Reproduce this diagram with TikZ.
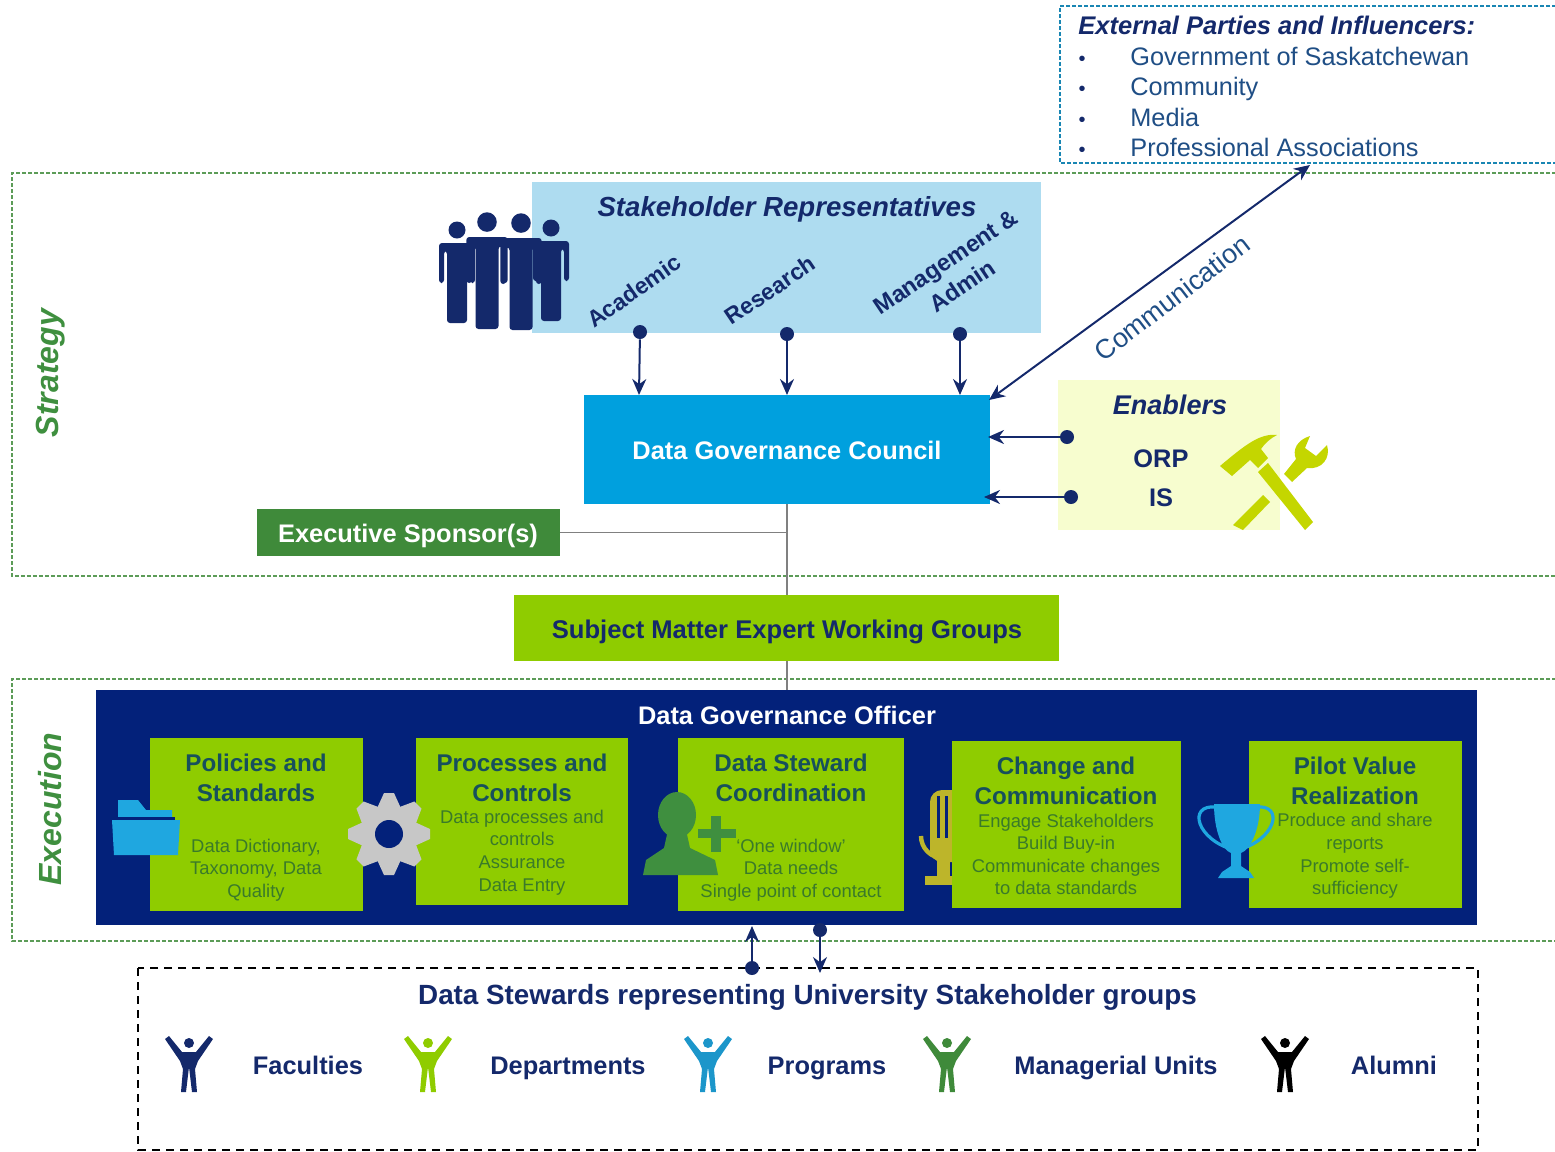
\documentclass[tikz,border=0pt]{standalone}
\usepackage{fontspec}
\setmainfont{Liberation Sans}
\usetikzlibrary{arrows.meta}
\definecolor{navy}{HTML}{14296B}
\definecolor{band}{HTML}{03217A}
\definecolor{lime}{HTML}{8FCC00}
\definecolor{sky}{HTML}{AEDCF0}
\definecolor{cblue}{HTML}{00A0DE}
\definecolor{pale}{HTML}{F7FDCF}
\definecolor{egreen}{HTML}{3F8A3A}
\definecolor{tooly}{HTML}{C4D600}
\definecolor{micy}{HTML}{BDB52A}
\definecolor{tblue}{HTML}{1FA7E0}
\definecolor{ttl}{HTML}{17505C}
\definecolor{sub}{HTML}{3A7A2A}
\definecolor{grn}{HTML}{3F8F3F}
\definecolor{extc}{HTML}{1F4E85}
\tikzset{
  sz/.style 2 args={minimum width=#1*0.5pt,minimum height=#2*0.5pt,inner sep=0pt,outer sep=0pt,anchor=north west},
  bx/.style={draw=none,fill=#1},
  oneline/.style={text height=9pt,text depth=0pt},
  ttlfont/.style={font=\fontsize{12.1}{15}\selectfont\bfseries,align=center,text=ttl,inner sep=0pt},
  subfont/.style={font=\fontsize{9.2}{11.3}\selectfont,align=center,text=sub,inner sep=0pt},
  headfont/.style={font=\fontsize{12.7}{15}\selectfont\bfseries,text=navy,inner sep=0pt},
  whitefont/.style={font=\fontsize{12.7}{15}\selectfont\bfseries,text=white,inner sep=0pt},
  zone/.style={draw=egreen!85,dashed,dash pattern=on 2pt off 1pt,line width=0.6pt},
  link/.style={draw=navy,line width=1pt,-{Stealth[length=8pt,width=7pt]}},
  glink/.style={draw=black!50,line width=0.6pt},
  dotn/.style={circle,fill=navy,inner sep=0pt,minimum size=7pt},
  standing/.pic={
    \fill[pic actions] (0,-13) circle (8.5);
    \fill[pic actions,rounded corners=1.5pt] (-18,0) -- (18,0) -- (18,40) -- (13,40) -- (13,8) -- (10,8) -- (10,80) -- (-10,80) -- (-10,8) -- (-13,8) -- (-13,40) -- (-18,40) -- cycle;
  },
  cheer/.pic={
    \fill[pic actions] (0,-21) circle (5);
    \fill[pic actions] (-24,-25) -- (-20,-28) -- (-7,-12) -- (7,-12) -- (20,-28) -- (24,-25) -- (9,-3) -- (6,5) -- (8,28) -- (3,28) -- (0,3) -- (-3,28) -- (-8,28) -- (-6,5) -- (-9,-3) -- cycle;
  }
}
\begin{document}
\begin{tikzpicture}[x=0.5pt,y=-0.5pt]
\useasboundingbox (0,0) rectangle (1555,1152);
\begin{scope}
\clip (0,0) rectangle (1555,1152);
% zones
\draw[zone] (1556,173) -- (12,173) -- (12,576) -- (1556,576);
\draw[zone] (1556,679) -- (12,679) -- (12,941) -- (1556,941);
\draw[draw=tblue!80!black,dashed,dash pattern=on 2pt off 1pt,line width=0.6pt] (1556,6) -- (1060,6) -- (1060,163) -- (1556,163);
\draw[black,dashed,dash pattern=on 4pt off 3pt,line width=0.7pt] (138,968) rectangle (1478,1150);

% boxes
\node[sz={509}{151},bx=sky] (sr) at (532,182) {};
\node[sz={406}{109},bx=cblue] (council) at (584,395) {};
\node[sz={222}{150},bx=pale] (enablers) at (1058,380) {};
\node[sz={303}{47},bx=egreen] (exec) at (257,509) {};
\node[sz={1381}{235},bx=band] (officer) at (96,690) {};

% grey connectors
\coordinate (junc) at (council.south |- exec.east);
\draw[glink] (council.south) -- (council.south |- officer.north);
\draw[glink] (exec.east) -- (junc);
\node[sz={545}{66},bx=lime] (sme) at (514,595) {};

% mic (behind box 4)
\fill[micy,rounded corners=6pt] (930,790) rectangle (965,862);
\fill[band] (937,796) rectangle (940,838);
\fill[band] (945,796) rectangle (948,838);
\draw[micy,line width=2.2pt] (921,836) arc[start angle=180,end angle=90,x radius=22,y radius=22];
\fill[micy] (937,860) rectangle (950,876);
\fill[micy] (925,876) rectangle (960,885);

% execution cards
\node[sz={213}{173},bx=lime] (b1) at (150,738) {};
\node[sz={212}{167},bx=lime] (b2) at (416,738) {};
\node[sz={226}{173},bx=lime] (b3) at (678,738) {};
\node[sz={229}{167},bx=lime] (b4) at (952,741) {};
\node[sz={213}{167},bx=lime] (b5) at (1249,741) {};

% folder
\fill[tblue] (118,800) -- (138,800) -- (146,810) -- (172,810) -- (172,820) -- (118,820) -- cycle;
\fill[band] (118,817) rectangle (175,820);
\fill[tblue] (112,820) -- (180,820) -- (178,855) -- (114,855) -- cycle;

% gear
\foreach \a in {0,45,...,315}{
  \fill[black!22,rotate around={\a:(389,834)}] (384,793) -- (394,793) -- (404,815) -- (374,815) -- cycle;
}
\fill[black!22] (389,834) circle[radius=29];
\fill[band] (389,834) circle[radius=14];

% person plus
\fill[grn] (677,815) ellipse[x radius=19,y radius=23];
\fill[grn] (668,830) -- (686,830) -- (690,848) -- (715,860) -- (718,875) -- (643,875) -- (646,860) -- (664,848) -- cycle;
\fill[grn] (711,816) rectangle (721,852);
\fill[grn] (698,829) rectangle (736,838);

% trophy
\draw[tblue,line width=1.6pt] (1222,808) .. controls (1188,800) and (1193,835) .. (1228,848);
\draw[tblue,line width=1.6pt] (1250,808) .. controls (1284,800) and (1279,835) .. (1244,848);
\fill[tblue] (1214,804) -- (1260,804) .. controls (1260,830) and (1250,850) .. (1241,853) -- (1241,866) -- (1250,872) -- (1254,878) -- (1218,878) -- (1222,872) -- (1231,866) -- (1231,853) .. controls (1222,850) and (1214,830) .. (1214,804) -- cycle;

% tools
\fill[tooly] (1258,472) -- (1268,463) -- (1313,522) -- (1305,530) -- cycle;
\fill[tooly] (1220,466) -- (1232,476) -- (1250,460) -- (1258,468) -- (1268,458) -- (1261,449) .. controls (1265,443) and (1271,438) .. (1277,435) .. controls (1260,433) and (1245,445) .. (1220,466) -- cycle;
\fill[tooly] (1233,525) -- (1263,495) -- (1270,502) -- (1243,530) -- cycle;
\fill[tooly] (1284,474) -- (1296,459) .. controls (1292,450) and (1297,440) .. (1310,436) -- (1305,448) -- (1316,456) -- (1327,445) .. controls (1331,458) and (1322,470) .. (1307,468) -- (1292,482) -- cycle;

% people group
\pic[navy] at (457,243) {standing};
\pic[navy] at (551,241) {standing};
\pic[navy,scale=1.15] at (487,237) {standing};
\pic[navy,scale=1.15] at (521,238) {standing};

% cheer icons
\pic[navy] at (189,1064) {cheer};
\pic[lime] at (428,1064) {cheer};
\pic[tblue!90!black] at (708,1064) {cheer};
\pic[egreen] at (947,1064) {cheer};
\pic[black] at (1285,1064) {cheer};

% external parties
\node[anchor=west,oneline,font=\fontsize{12.75}{15}\selectfont\bfseries\itshape,text=navy,inner sep=0pt] (extt) at (1078,25) {External Parties and Influencers:};
\foreach \n/\yy/\tt in {e1/56/Government of Saskatchewan,e2/86/Community,e3/117/Media,e4/147/Professional Associations}{
  \node[anchor=west,oneline,font=\fontsize{12.65}{15}\selectfont,text=extc,inner sep=0pt] (\n) at (1130,\yy) {\tt};
  \node[anchor=center,oneline,font=\fontsize{10}{12}\selectfont,text=navy,inner sep=0pt] (\n b) at (1082,\yy) {•};
}

% labels
\node[font=\fontsize{16}{19}\selectfont\bfseries\itshape,text=grn,rotate=90,inner sep=0pt] (strategy) at (51,373) {Strategy};
\node[font=\fontsize{16}{19}\selectfont\bfseries\itshape,text=grn,rotate=90,inner sep=0pt] (execution) at (50,809) {Execution};
\node[oneline,font=\fontsize{13.8}{16}\selectfont\bfseries\itshape,text=navy,inner sep=0pt] (srt) at (787,207) {Stakeholder Representatives};
\node[headfont,font=\fontsize{11.5}{14}\selectfont\bfseries,rotate=35] (acad) at (634,291) {Academic};
\node[headfont,font=\fontsize{11.5}{14}\selectfont\bfseries,rotate=34] (rsch) at (770,290) {Research};
\node[headfont,font=\fontsize{11.8}{14.5}\selectfont\bfseries,rotate=34,align=center] (mgmt) at (954,274) {Management \&\\Admin};
\node[whitefont,oneline] (councilt) at (787,450) {Data Governance Council};
\node[oneline,font=\fontsize{13.5}{16}\selectfont\bfseries\itshape,text=navy,inner sep=0pt] (ent) at (1170,405) {Enablers};
\node[headfont,oneline] (orp) at (1161,458) {ORP};
\node[headfont,oneline] (is) at (1161,497) {IS};
\node[whitefont,oneline] (exect) at (408,533) {Executive Sponsor(s)};
\node[headfont,oneline,font=\fontsize{12.8}{15}\selectfont\bfseries] (smet) at (787,629) {Subject Matter Expert Working Groups};
\node[whitefont,oneline] (officert) at (787,715) {Data Governance Officer};
\node[font=\fontsize{13.5}{16}\selectfont,text=extc,rotate=37.6,inner sep=0pt] (commt) at (1172,298) {Communication};

% card text
\node[ttlfont] (t1) at (256,778) {Policies and\\Standards};
\node[subfont] (s1) at (256,870) {Data Dictionary,\\Taxonomy, Data\\Quality};
\node[ttlfont] (t2) at (522,778) {Processes and\\Controls};
\node[subfont] (s2) at (522,852.5) {Data processes and\\controls\\Assurance\\Data Entry};
\node[ttlfont] (t3) at (791,778) {Data Steward\\Coordination};
\node[subfont] (s3) at (791,870) {`One window'\\Data needs\\Single point of contact};
\node[ttlfont] (t4) at (1066,781) {Change and\\Communication};
\node[subfont] (s4) at (1066,854.5) {Engage Stakeholders\\Build Buy-in\\Communicate changes\\to data standards};
\node[ttlfont] (t5) at (1355,781) {Pilot Value\\Realization};
\node[subfont] (s5) at (1355,856) {Produce and share\\reports\\Promote self-\\sufficiency};

% steward box text
\node[headfont,oneline,font=\fontsize{13.9}{16}\selectfont\bfseries] (dst) at (807.5,995) {Data Stewards representing University Stakeholder groups};
\node[headfont,oneline] (f1) at (308,1065) {Faculties};
\node[headfont,oneline] (f2) at (568,1065) {Departments};
\node[headfont,oneline] (f3) at (827,1065) {Programs};
\node[headfont,oneline] (f4) at (1116,1065) {Managerial Units};
\node[headfont,oneline] (f5) at (1394,1065) {Alumni};

% connectors
\node[dotn] (d1) at (640,332) {};
\node[dotn] (d2) at (787,334) {};
\node[dotn] (d3) at (960,334) {};
\coordinate (a1) at (639,395);
\coordinate (a2) at (787,395);
\coordinate (a3) at (960,395);
\draw[link] (d1) -- (a1);
\draw[link] (d2) -- (a2);
\draw[link] (d3) -- (a3);
\node[dotn] (d4) at (1067,437) {};
\node[dotn] (d5) at (1071,497) {};
\coordinate (a4) at (988,437);
\coordinate (a5) at (984,497);
\draw[link] (d4) -- (a4);
\draw[link] (d5) -- (a5);
\coordinate (c1) at (1310,165);
\coordinate (c2) at (989,400);
\draw[link,{Stealth[length=8pt,width=7pt]}-{Stealth[length=8pt,width=7pt]}] (c1) -- (c2);
\node[dotn] (d6) at (752,968) {};
\node[dotn] (d7) at (820,930) {};
\coordinate (a6) at (752,926);
\coordinate (a7) at (820,973);
\draw[link] (d6) -- (a6);
\draw[link] (d7) -- (a7);
\end{scope}
\end{tikzpicture}
\end{document}
